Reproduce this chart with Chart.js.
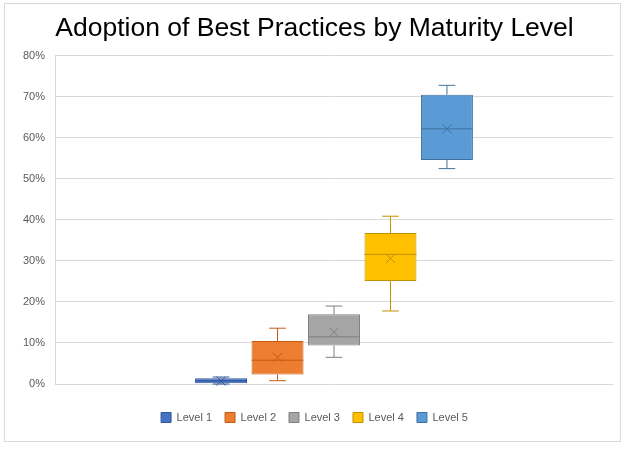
<!DOCTYPE html>
<html>
<head>
<meta charset="utf-8">
<script src="https://cdn.jsdelivr.net/npm/chart.js@4.4.1/dist/chart.umd.min.js"></script>
<style>
    html, body { margin: 0; padding: 0; background: #fff; }
    #wrap { position: relative; width: 627px; height: 449px; }
    #frame { position: absolute; left: 4px; top: 3px; width: 617px; height: 439px; border: 1px solid #d9d9d9; box-sizing: border-box; }
    #chart { position: absolute; left: 0; top: 0; }
</style>
</head>
<body>
<div id="wrap">
    <div id="frame"></div>
    <canvas id="chart" width="627" height="449"></canvas>
</div>
<script>
// Box plot values (fractions of 1)
const levels = ['Level 1', 'Level 2', 'Level 3', 'Level 4', 'Level 5'];
const minVals = [0.000, 0.008, 0.065, 0.178, 0.525];
const q1Vals = [0.002, 0.023, 0.094, 0.251, 0.546];
const medianVals = [0.008, 0.058, 0.115, 0.316, 0.622];
const q3Vals = [0.014, 0.105, 0.170, 0.368, 0.705];
const maxVals = [0.017, 0.136, 0.190, 0.409, 0.728];
const meanVals = [0.007, 0.065, 0.126, 0.306, 0.622];
const yTicks = [0, 0.1, 0.2, 0.3, 0.4, 0.5, 0.6, 0.7, 0.8];

// Colors
const fills = ['#4472C4', '#ED7D31', '#A5A5A5', '#FFC000', '#5B9BD5'];
const lines = ['#2F5597', '#C55A11', '#7F7F7F', '#BF9000', '#41719C'];

// Whiskers, medians and mean markers drawn on top of the floating bars
const whiskerPlugin = {
    id: 'whiskers',
    afterDatasetsDraw(chart) {
        const ctx = chart.ctx;
        const y = chart.scales.y;
        chart.data.datasets.forEach((ds, i) => {
            const bar = chart.getDatasetMeta(i).data[0];
            if (!bar) return;
            const x = bar.x;
            const half = bar.width / 2;
            const cap = bar.width * 0.16;
            ctx.save();
            ctx.strokeStyle = lines[i];
            ctx.lineWidth = 1;
            ctx.beginPath();
            // upper whisker
            ctx.moveTo(x, y.getPixelForValue(q3Vals[i]));
            ctx.lineTo(x, y.getPixelForValue(maxVals[i]));
            ctx.moveTo(x - cap, y.getPixelForValue(maxVals[i]));
            ctx.lineTo(x + cap, y.getPixelForValue(maxVals[i]));
            // lower whisker
            ctx.moveTo(x, y.getPixelForValue(q1Vals[i]));
            ctx.lineTo(x, y.getPixelForValue(minVals[i]));
            ctx.moveTo(x - cap, y.getPixelForValue(minVals[i]));
            ctx.lineTo(x + cap, y.getPixelForValue(minVals[i]));
            // median
            ctx.moveTo(x - half, y.getPixelForValue(medianVals[i]));
            ctx.lineTo(x + half, y.getPixelForValue(medianVals[i]));
            ctx.stroke();
            // mean marker
            const my = y.getPixelForValue(meanVals[i]);
            const r = 4.5;
            ctx.beginPath();
            ctx.moveTo(x - r, my - r);
            ctx.lineTo(x + r, my + r);
            ctx.moveTo(x + r, my - r);
            ctx.lineTo(x - r, my + r);
            ctx.stroke();
            ctx.restore();
        });
    }
};

const datasets = levels.map((name, i) => ({
    label: name,
    data: [[q1Vals[i], q3Vals[i]]],
    backgroundColor: fills[i],
    borderColor: lines[i],
    borderWidth: 1,
    borderSkipped: false,
    categoryPercentage: 0.506,
    barPercentage: 0.92
}));

new Chart(document.getElementById('chart'), {
    type: 'bar',
    data: { labels: [''], datasets },
    options: {
        responsive: false,
        animation: false,
        devicePixelRatio: 1,
        layout: { padding: { left: 16, right: 14, top: 0, bottom: 16 } },
        plugins: {
            title: {
                display: true,
                text: 'Adoption of Best Practices by Maturity Level',
                color: '#000',
                font: { family: '"Liberation Sans", Arial, sans-serif', size: 26.5, weight: 'normal' },
                padding: { top: 13, bottom: 11 }
            },
            legend: {
                position: 'bottom',
                labels: {
                    boxWidth: 10,
                    boxHeight: 10,
                    padding: 13,
                    color: '#595959',
                    font: { family: '"Liberation Sans", Arial, sans-serif', size: 11 }
                }
            },
            tooltip: { enabled: false }
        },
        scales: {
            x: {
                afterFit: s => { s.height = 15; },
                ticks: { display: false },
                grid: { display: false },
                border: { display: false }
            },
            y: {
                min: 0,
                max: 0.8,
                afterFit: s => { s.width = 39; },
                afterBuildTicks: s => { s.ticks = yTicks.map(v => ({ value: v })); },
                ticks: {
                    padding: 10,
                    color: '#595959',
                    font: { family: '"Liberation Sans", Arial, sans-serif', size: 11 },
                    callback: v => Math.round(v * 100) + '%'
                },
                grid: { color: '#d9d9d9', drawTicks: false },
                border: { display: true, color: '#d9d9d9' }
            }
        }
    },
    plugins: [whiskerPlugin]
});
</script>
</body>
</html>
